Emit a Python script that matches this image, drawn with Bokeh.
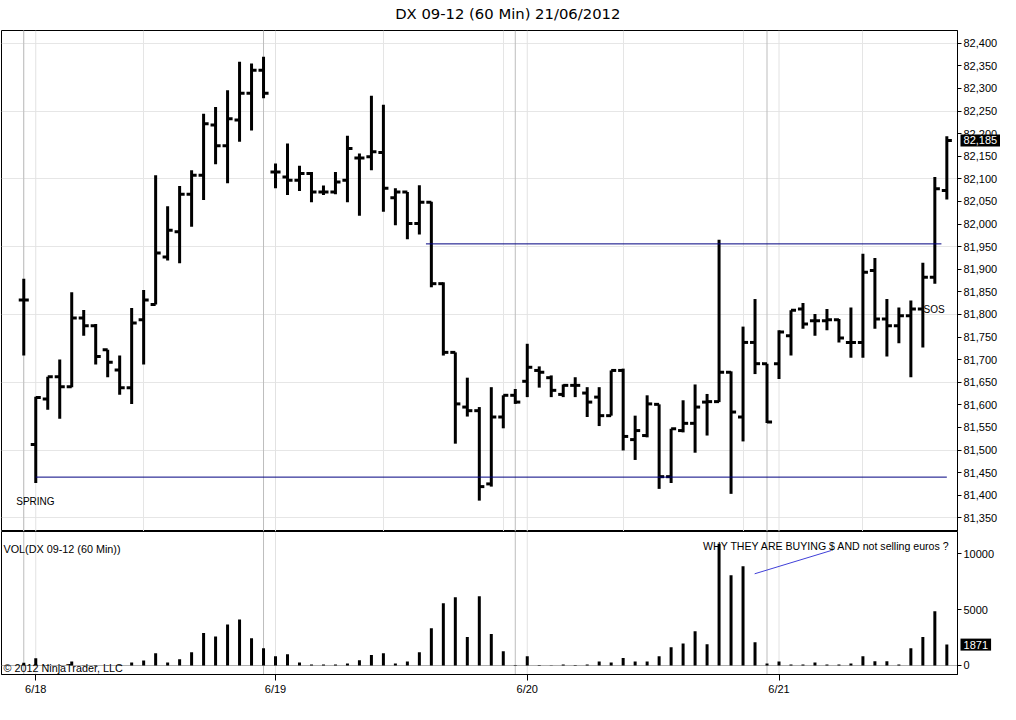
import numpy as np
from bokeh.plotting import figure
from bokeh.models import (Range1d, Span, Label, FixedTicker, NumeralTickFormatter,
                          ColumnDataSource)
from bokeh.layouts import column
from bokeh.embed import file_html
from bokeh.resources import INLINE

# ---------------- data ----------------
bar_index = list(range(78))
opens = [81832, 81512, 81613, 81662, 81640, 81792, 81775, 81722, 81677, 81638,
         81788, 81822, 81927, 81983, 82066, 82108, 82219, 82173, 82230, 82289,
         82340, 82115, 82104, 82097, 82112, 82071, 82071, 82097, 82146, 82149,
         82158, 82058, 82071, 82001, 82048, 81868, 81716, 81595, 81587, 81425,
         81573, 81621, 81652, 81676, 81660, 81623, 81643, 81626, 81617, 81576,
         81676, 81523, 81532, 81601, 81441, 81543, 81559, 81606, 81607, 81672,
         81573, 81738, 81691, 81691, 81753, 81812, 81786, 81786, 81788, 81738,
         81738, 81897, 81790, 81775, 81797, 81812, 81882, 82074]
highs = [81879, 81618, 81662, 81700, 81849, 81810, 81779, 81722, 81709, 81814,
         81854, 82108, 82039, 82084, 82119, 82244, 82259, 82296, 82359, 82355,
         82370, 82134, 82178, 82129, 82115, 82085, 82115, 82195, 82156, 82284,
         82264, 82079, 82071, 82086, 82049, 81871, 81716, 81660, 81595, 81639,
         81621, 81635, 81735, 81685, 81665, 81645, 81661, 81639, 81639, 81676,
         81680, 81576, 81621, 81601, 81547, 81610, 81645, 81624, 81965, 81674,
         81773, 81834, 81691, 81765, 81809, 81825, 81801, 81812, 81790, 81815,
         81934, 81925, 81834, 81815, 81831, 81914, 82104, 82194]
lows = [81709, 81427, 81589, 81569, 81639, 81753, 81689, 81661, 81622, 81602,
        81689, 81822, 81919, 81913, 81994, 82053, 82132, 82090, 82182, 82207,
        82278, 82079, 82064, 82073, 82048, 82064, 82066, 82048, 82018, 82119,
        82027, 81997, 81966, 81977, 81860, 81709, 81514, 81574, 81388, 81419,
        81548, 81602, 81617, 81638, 81617, 81617, 81617, 81573, 81553, 81576,
        81499, 81478, 81528, 81414, 81427, 81539, 81494, 81532, 81606, 81403,
        81519, 81668, 81560, 81657, 81709, 81768, 81753, 81765, 81738, 81704,
        81704, 81768, 81707, 81736, 81661, 81727, 81868, 82054]
closes = [81832, 81616, 81662, 81640, 81792, 81775, 81707, 81694, 81638, 81781,
          81832, 81936, 81986, 82066, 82108, 82222, 82173, 82233, 82289, 82340,
          82289, 82115, 82097, 82112, 82071, 82071, 82093, 82167, 82146, 82160,
          82079, 82071, 82001, 82048, 81868, 81716, 81602, 81587, 81419, 81573,
          81621, 81606, 81683, 81672, 81632, 81643, 81643, 81606, 81576, 81676,
          81530, 81543, 81602, 81441, 81547, 81559, 81595, 81607, 81672, 81584,
          81738, 81691, 81562, 81761, 81809, 81779, 81786, 81788, 81748, 81738,
          81893, 81790, 81775, 81797, 81812, 81882, 82078, 82185]
volume = [240, 650, 50, 40, 360, 30, 40, 30, 50, 270,
          450, 1100, 270, 570, 1190, 2900, 2600, 3670, 4120, 2450,
          1550, 830, 1010, 270, 90, 90, 90, 180, 480, 930,
          1100, 180, 360, 1190, 3340, 5580, 6120, 2540, 6210, 2810,
          1280, 40, 830, 40, 30, 90, 40, 90, 360, 270,
          660, 360, 360, 830, 1640, 1970, 3070, 1910, 10900, 8090,
          8890, 2090, 180, 360, 90, 90, 270, 90, 90, 180,
          830, 390, 390, 90, 1550, 2540, 4860, 1871]

date_tick_bars = [1, 21, 42, 63]
date_labels = ["6/18", "6/19", "6/20", "6/21"]
session_bars = [0, 20, 41, 62]

price_ticks = list(range(81350, 82401, 50))
price_grid = list(range(81350, 82401, 150))
volume_ticks = [0, 5000, 10000]

support_x = [1, 77]
support_y = [81440, 81440]
resist_x = [33.55, 76.55]
resist_y = [81956, 81956]

note_line_x = [60.97, 67.36]
note_line_y = [8210, 10295]

last_price = 82185
last_price_text = "82,185"
last_volume = 1871

title_text = "DX 09-12 (60 Min)  21/06/2012"

# ---------------- styling constants ----------------
FONT = "Liberation Sans"
TICK = 0.42
BADGE_X = 78.14
NB = "\u00a0"
x_range = Range1d(-1.858, 77.89)

# ---------------- price panel ----------------
p1 = figure(width=1000, height=531, x_range=x_range,
            y_range=Range1d(81319.7, 82428.1),
            output_backend="svg", toolbar_location=None,
            x_axis_location=None, y_axis_location="right",
            min_border_left=1, min_border_right=42,
            min_border_top=30, min_border_bottom=0)
p1.title.visible = False
p1.outline_line_color = "black"
p1.outline_line_alpha = 1.0
p1.background_fill_color = "white"
p1.border_fill_color = "white"

p1.ygrid.ticker = FixedTicker(ticks=price_grid)
p1.ygrid.grid_line_color = "#e6e6e6"
p1.yaxis.ticker = FixedTicker(ticks=price_ticks)
p1.yaxis.formatter = NumeralTickFormatter(format="0,0")
for ax in [p1.yaxis]:
    ax.major_label_text_font = FONT
    ax.major_label_text_font_size = "11px"
    ax.major_label_text_color = "black"
    ax.major_tick_out = 4
    ax.major_tick_in = 0
    ax.minor_tick_out = 0
    ax.minor_tick_in = 0
    ax.major_label_standoff = 2
    ax.axis_line_color = "black"
    ax.major_tick_line_color = "black"

# chart title and last-price badge live in the top side panel (not clipped)
p1.add_layout(Label(x=30.98, y=82465.7, text=title_text, text_font="DejaVu Sans",
                    text_font_size="14.8px", text_baseline="middle",
                    text_align="left", text_color="black"), "above")
p1.add_layout(Label(x=BADGE_X, y=last_price, text=NB + last_price_text + NB, text_font=FONT,
                    text_font_size="11px", text_baseline="middle",
                    text_align="left", text_color="white",
                    background_fill_color="black", background_fill_alpha=1.0), "above")

for b in session_bars:
    p1.add_layout(Span(location=b, dimension="height", line_color="#bdbdbd",
                       line_width=1, level="underlay"))
for b in date_tick_bars:
    p1.add_layout(Span(location=b, dimension="height", line_color="#e2e2e2",
                       line_width=1, level="underlay"))

xs = np.array(bar_index, dtype=float)
src = ColumnDataSource(dict(x=xs, xl=xs - TICK, xr=xs + TICK,
                            o=opens, h=highs, l=lows, c=closes))
p1.segment(x0="x", y0="l", x1="x", y1="h", source=src, line_width=3,
           line_color="black", line_cap="butt")
p1.segment(x0="xl", y0="o", x1="x", y1="o", source=src, line_width=3,
           line_color="black", line_cap="butt")
p1.segment(x0="x", y0="c", x1="xr", y1="c", source=src, line_width=3,
           line_color="black", line_cap="butt")

p1.line(support_x, support_y, line_color="#000080", line_width=1)
p1.line(resist_x, resist_y, line_color="#000080", line_width=1)

p1.add_layout(Label(x=-0.63, y=81386, text="SPRING", text_font=FONT,
                    text_font_size="10px", text_baseline="middle",
                    text_align="left", text_color="black"))
p1.add_layout(Label(x=75.06, y=81811, text="SOS", text_font=FONT,
                    text_font_size="10px", text_baseline="middle",
                    text_align="left", text_color="black"))

# ---------------- volume panel ----------------
p2 = figure(width=1000, height=185, x_range=x_range,
            y_range=Range1d(-806, 11996),
            output_backend="svg", toolbar_location=None,
            y_axis_location="right",
            min_border_left=1, min_border_right=42,
            min_border_top=0, min_border_bottom=42)
p2.outline_line_color = "black"
p2.outline_line_alpha = 1.0
p2.background_fill_color = "white"
p2.border_fill_color = "white"
p2.xgrid.visible = False
p2.ygrid.visible = False

p2.yaxis.ticker = FixedTicker(ticks=volume_ticks)
p2.xaxis.ticker = FixedTicker(ticks=date_tick_bars)
p2.xaxis.major_label_overrides = {b: lab for b, lab in zip(date_tick_bars, date_labels)}
for ax in [p2.yaxis[0], p2.xaxis[0]]:
    ax.major_label_text_font = FONT
    ax.major_label_text_font_size = "11px"
    ax.major_label_text_color = "black"
    ax.major_tick_in = 0
    ax.minor_tick_out = 0
    ax.minor_tick_in = 0
    ax.major_label_standoff = 2
    ax.axis_line_color = "black"
    ax.major_tick_line_color = "black"
p2.yaxis.major_tick_out = 4
p2.xaxis.major_tick_out = 6

for b in session_bars:
    p2.add_layout(Span(location=b, dimension="height", line_color="#bdbdbd",
                       line_width=1, level="underlay"))
for b in date_tick_bars:
    p2.add_layout(Span(location=b, dimension="height", line_color="#e2e2e2",
                       line_width=1, level="underlay"))
p2.add_layout(Span(location=0, dimension="width", line_color="#b0b0b0",
                   line_width=1, level="underlay"))

p2.vbar(x=bar_index, top=volume, bottom=0, width=0.25, fill_color="black",
        line_color=None)

p2.line(note_line_x, note_line_y, line_color="#4040d8", line_width=1)

p2.add_layout(Label(x=-1.69, y=10385, text="VOL(DX 09-12 (60 Min))", text_font=FONT,
                    text_font_size="10.8px", text_baseline="middle",
                    text_align="left", text_color="black"))
p2.add_layout(Label(x=-1.69, y=-224, text="\u00a9 2012 NinjaTrader, LLC", text_font=FONT,
                    text_font_size="10.8px", text_baseline="middle",
                    text_align="left", text_color="black"))
p2.add_layout(Label(x=56.67, y=10698, text="WHY THEY ARE BUYING $ AND not selling euros ?",
                    text_font=FONT, text_font_size="10.6px", text_baseline="middle",
                    text_align="left", text_color="black"))

# last volume badge (bottom side panel has spare room, so layout is unchanged)
p2.add_layout(Label(x=BADGE_X, y=last_volume, text=NB + str(last_volume) + NB, text_font=FONT,
                    text_font_size="11px", text_baseline="middle",
                    text_align="left", text_color="white",
                    background_fill_color="black", background_fill_alpha=1.0), "below")

layout = column(p1, p2)
open("out.html", "w").write(file_html(layout, INLINE))
